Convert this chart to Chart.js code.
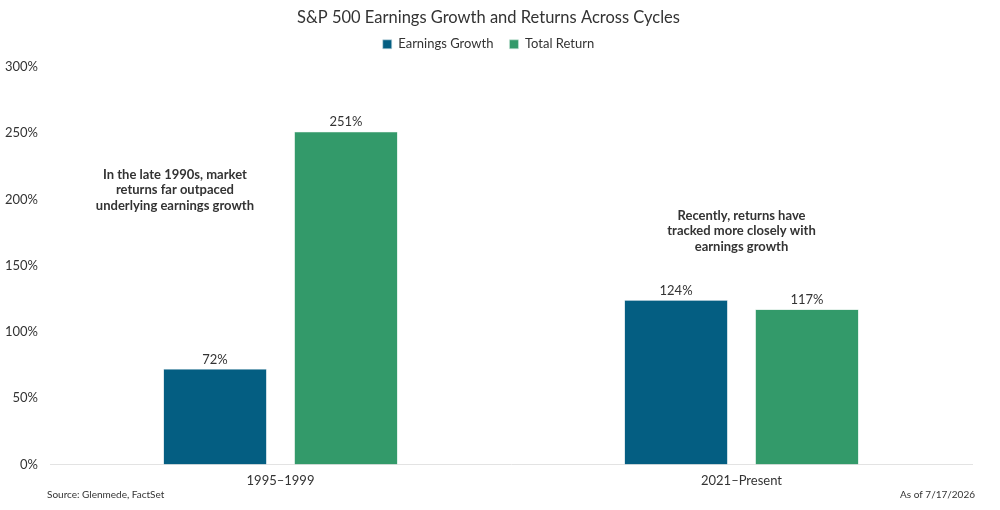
<!DOCTYPE html>
<html>
<head>
<meta charset="utf-8">
<script src="https://cdn.jsdelivr.net/npm/chart.js@4/dist/chart.umd.min.js"></script>
<style>
  html, body { margin: 0; padding: 0; background: #fff; }
  #wrap { width: 1000px; height: 510px; position: relative; }
</style>
</head>
<body>
<div id="wrap"><canvas id="chart"></canvas></div>
<script>
// Chart data
const categories = ['1995\u20131999', '2021\u2013Present'];
const earningsGrowth = [72, 124];
const totalReturn = [251, 117];
const yTicks = [0, 50, 100, 150, 200, 250, 300];

// Callout notes: category index + value they sit at
const notes = [
  { cat: 0, offset: -0.229, value: 207, lines: ['In the late 1990s, market', 'returns far outpaced', 'underlying earnings growth'] },
  { cat: 1, offset: 0, value: 176, lines: ['Recently, returns have', 'tracked more closely with', 'earnings growth'] }
];

const FONT = 'Lato, "Open Sans", sans-serif';
const TEXT = '#333333';

// Extra room under the legend
const legendSpace = {
  id: 'legendSpace',
  beforeInit(chart) {
    const fit = chart.legend.fit;
    chart.legend.fit = function () {
      fit.call(this);
      this.height += 6;
    };
  }
};

// Value labels above bars
const barLabels = {
  id: 'barLabels',
  afterDatasetsDraw(chart) {
    const ctx = chart.ctx;
    ctx.save();
    ctx.font = '13px ' + FONT;
    ctx.fillStyle = TEXT;
    ctx.textAlign = 'center';
    ctx.textBaseline = 'bottom';
    chart.data.datasets.forEach((ds, i) => {
      chart.getDatasetMeta(i).data.forEach((bar, j) => {
        ctx.fillText(ds.data[j] + '%', bar.x, bar.y - 3);
      });
    });
    ctx.restore();
  }
};

// Annotation text and footer
const extras = {
  id: 'extras',
  afterDraw(chart) {
    const ctx = chart.ctx;
    const xs = chart.scales.x, ys = chart.scales.y;
    const catW = xs.width / categories.length;
    ctx.save();
    ctx.fillStyle = TEXT;
    ctx.textAlign = 'center';
    ctx.textBaseline = 'middle';
    ctx.font = 'bold 13px ' + FONT;
    notes.forEach(n => {
      const x = xs.getPixelForValue(n.cat) + n.offset * catW;
      const y = ys.getPixelForValue(n.value);
      n.lines.forEach((line, k) => {
        ctx.fillText(line, x, y + (k - 1) * 15.5);
      });
    });
    ctx.font = '10px ' + FONT;
    ctx.textAlign = 'left';
    ctx.fillText('Source: Glenmede, FactSet', 47, 495);
    ctx.textAlign = 'right';
    ctx.fillText('As of 7/17/2026', 975, 495);
    ctx.restore();
  }
};

new Chart(document.getElementById('chart'), {
  type: 'bar',
  data: {
    labels: categories,
    datasets: [
      {
        label: 'Earnings Growth',
        data: earningsGrowth,
        backgroundColor: '#045e82',
        borderColor: '#c9dbe3',
        borderWidth: 0.6
      },
      {
        label: 'Total Return',
        data: totalReturn,
        backgroundColor: '#339a6a',
        borderColor: '#cde6da',
        borderWidth: 0.6
      }
    ]
  },
  options: {
    responsive: true,
    maintainAspectRatio: false,
    animation: false,
    layout: { padding: { left: 5, right: 28, top: 0, bottom: 20 } },
    datasets: {
      bar: { categoryPercentage: 0.568, barPercentage: 0.79 }
    },
    plugins: {
      title: {
        display: true,
        text: 'S&P 500 Earnings Growth and Returns Across Cycles',
        color: TEXT,
        font: { family: FONT, size: 16.5, weight: 'normal' },
        padding: { top: 8, bottom: -6 }
      },
      legend: {
        position: 'top',
        labels: {
          color: TEXT,
          font: { family: FONT, size: 13 },
          boxWidth: 9,
          boxHeight: 9,
          padding: 16
        }
      },
      tooltip: { enabled: false }
    },
    scales: {
      x: {
        grid: { display: false },
        border: { display: true, color: '#e3e3e3', width: 1 },
        ticks: { color: TEXT, font: { family: FONT, size: 13 }, padding: 1 }
      },
      y: {
        min: 0,
        max: 300,
        afterBuildTicks(axis) {
          axis.ticks = yTicks.map(v => ({ value: v }));
        },
        afterFit(axis) {
          axis.width = 45;
        },
        grid: { display: false, drawTicks: false },
        border: { display: false },
        ticks: {
          color: TEXT,
          font: { family: FONT, size: 13 },
          padding: 12,
          callback: v => v + '%'
        }
      }
    }
  },
  plugins: [legendSpace, barLabels, extras]
});
</script>
</body>
</html>
